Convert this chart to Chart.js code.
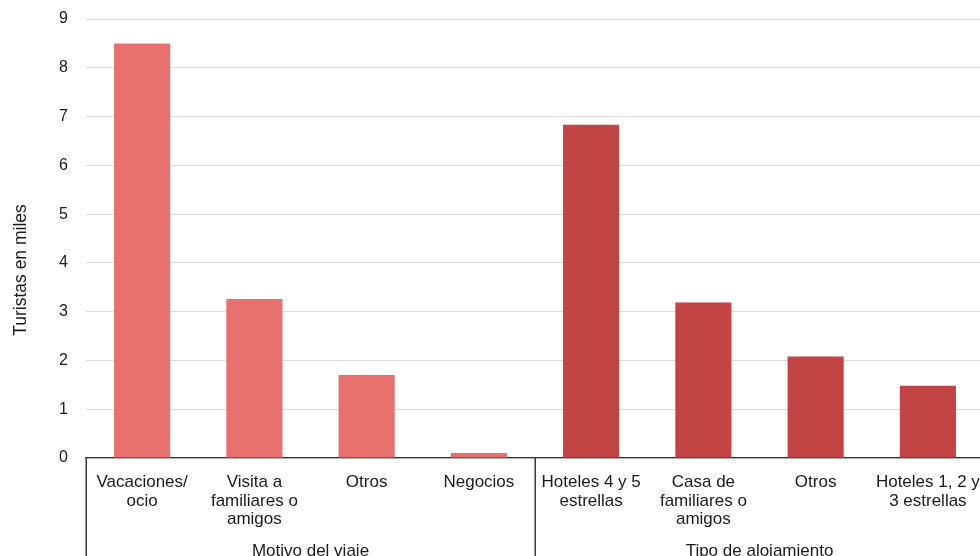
<!DOCTYPE html>
<html>
<head>
<meta charset="utf-8">
<script src="https://cdn.jsdelivr.net/npm/chart.js@4/dist/chart.umd.min.js"></script>
<style>
    html, body { margin: 0; padding: 0; overflow: hidden; background: #fff; }
    #wrap { width: 990px; height: 600px; }
</style>
</head>
<body>
<div id="wrap"><canvas id="turistasChart" width="990" height="600"></canvas></div>
<script>
// categorias (multilinea) y valores en miles de turistas
const categories = [
    ['Vacaciones/', 'ocio'],
    ['Visita a', 'familiares o', 'amigos'],
    'Otros',
    'Negocios',
    ['Hoteles 4 y 5', 'estrellas'],
    ['Casa de', 'familiares o', 'amigos'],
    'Otros',
    ['Hoteles 1, 2 y', '3 estrellas']
];
const values = [8.5, 3.26, 1.7, 0.1, 6.83, 3.19, 2.08, 1.48];

// grupos: nombre y cuantas categorias abarca
const groupNames = ['Motivo del viaje', 'Tipo de alojamiento'];
const groupSizes = [4, 4];
const groupColors = ['#E8706D', '#C24444'];

const yTicks = [0, 1, 2, 3, 4, 5, 6, 7, 8, 9];
const yTitle = 'Turistas en miles';

const FONT = '"Liberation Sans", Arial, Helvetica, sans-serif';

const barColors = [];
groupSizes.forEach((n, g) => {
    for (let i = 0; i < n; i++) barColors.push(groupColors[g]);
});

// chart.js reserva espacio para etiquetas que sobresalen; aqui no hace falta
function noPadding(scale) {
    scale.paddingTop = 0;
    scale.paddingBottom = 0;
    scale.paddingLeft = 0;
    scale.paddingRight = 0;
}

// separadores de grupos, etiquetas de grupo y titulo del eje y
const groupPlugin = {
    id: 'groups',
    afterDraw(chart) {
        const ctx = chart.ctx;
        const x = chart.scales.x;
        const area = chart.chartArea;
        const step = x.getPixelForTick(1) - x.getPixelForTick(0);

        const bounds = [];
        let idx = 0;
        bounds.push(x.getPixelForTick(0) - step / 2);
        groupSizes.forEach(n => {
            idx += n;
            bounds.push(x.getPixelForTick(idx - 1) + step / 2);
        });

        ctx.save();
        ctx.strokeStyle = '#3a3a3a';
        ctx.lineWidth = 1.5;
        bounds.forEach(b => {
            const px = Math.round(b) + 0.25;
            ctx.beginPath();
            ctx.moveTo(px, area.bottom);
            ctx.lineTo(px, chart.height);
            ctx.stroke();
        });

        ctx.fillStyle = '#1a1a1a';
        ctx.font = '17px ' + FONT;
        ctx.textAlign = 'center';
        ctx.textBaseline = 'alphabetic';
        groupNames.forEach((name, g) => {
            ctx.fillText(name, (bounds[g] + bounds[g + 1]) / 2, 556);
        });

        // titulo vertical
        ctx.font = '17.5px ' + FONT;
        ctx.translate(21, 270);
        ctx.rotate(-Math.PI / 2);
        ctx.textBaseline = 'middle';
        ctx.fillText(yTitle, 0, 0);
        ctx.restore();
    }
};

new Chart(document.getElementById('turistasChart'), {
    type: 'bar',
    data: {
        labels: categories,
        datasets: [{
            data: values,
            backgroundColor: barColors,
            borderWidth: 0,
            barPercentage: 1,
            categoryPercentage: 0.5,
        }]
    },
    options: {
        responsive: false,
        animation: false,
        devicePixelRatio: 1,
        layout: { padding: { top: 19, right: 6, left: 0, bottom: 0 } },
        plugins: {
            legend: { display: false },
            tooltip: { enabled: false }
        },
        scales: {
            x: {
                grid: { display: false, drawTicks: false },
                border: { display: true, color: '#333333', width: 1.3 },
                ticks: {
                    color: '#1a1a1a',
                    font: { family: FONT, size: 17, lineHeight: 1.1 },
                    padding: 15,
                    maxRotation: 0,
                    autoSkip: false
                },
                afterFit(scale) {
                    scale.height = 600 - 458;
                    noPadding(scale);
                }
            },
            y: {
                min: 0,
                max: 9,
                afterBuildTicks(scale) { scale.ticks = yTicks.map(v => ({ value: v })); },
                grid: { color: '#dcdcdc', lineWidth: 1, drawTicks: false },
                border: { display: false },
                ticks: {
                    color: '#1a1a1a',
                    font: { family: FONT, size: 16 },
                    padding: 18
                },
                title: { display: false },
                afterFit(scale) {
                    scale.width = 86;
                    noPadding(scale);
                }
            }
        }
    },
    plugins: [groupPlugin]
});
</script>
</body>
</html>
